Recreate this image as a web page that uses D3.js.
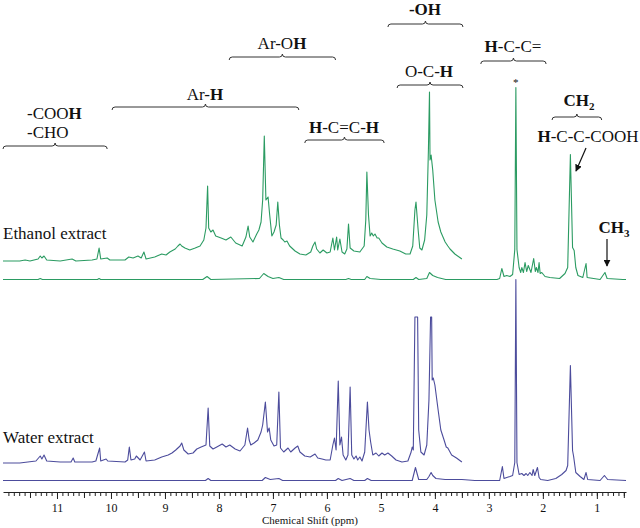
<!DOCTYPE html>
<html>
<head>
<meta charset="utf-8">
<script src="https://cdn.jsdelivr.net/npm/d3@7"></script>
<style>
  body { margin: 0; background: #fff; }
  svg { display: block; }
  text { font-family: "Liberation Serif", "Times New Roman", serif; fill: #111; }
</style>
</head>
<body>
<div id="main"></div>
<script>
// Spectra: [ppm, intensity]
const ethanolZoom = [
  [12.0, 1], [11.69, 1], [11.59, 2], [11.5, 1], [11.35, 3], [11.31, 6], [11.28, 4], [11.24, 6],
  [11.19, 2], [10.94, 1], [10.72, 3], [10.65, 1], [10.35, 2], [10.26, 3], [10.22, 14], [10.19, 3],
  [10.07, 4], [10.02, 2], [9.74, 2], [9.67, 5], [9.59, 4], [9.5, 6], [9.44, 4], [9.39, 10],
  [9.35, 3], [9.19, 5], [9.06, 8], [8.98, 7], [8.91, 10], [8.81, 13], [8.76, 16], [8.72, 18],
  [8.69, 16], [8.63, 14], [8.54, 12], [8.44, 14], [8.35, 16], [8.28, 22], [8.24, 34], [8.21, 76],
  [8.19, 34], [8.15, 30], [8.11, 32], [8.06, 26], [7.96, 24], [7.87, 22], [7.78, 25], [7.69, 19],
  [7.57, 16], [7.5, 25], [7.46, 36], [7.43, 25], [7.37, 20], [7.3, 28], [7.26, 32], [7.22, 40],
  [7.19, 62], [7.16, 126], [7.13, 62], [7.09, 65], [7.06, 47], [7.02, 26], [6.98, 30], [6.94, 37],
  [6.91, 60], [6.88, 37], [6.85, 24], [6.81, 22], [6.78, 20], [6.74, 21], [6.69, 16], [6.59, 11],
  [6.5, 8], [6.39, 7], [6.3, 10], [6.26, 16], [6.22, 20], [6.19, 13], [6.13, 9], [6.07, 12],
  [6.0, 9], [5.94, 10], [5.89, 24], [5.86, 12], [5.82, 25], [5.8, 12], [5.76, 23], [5.72, 10],
  [5.67, 8], [5.63, 13], [5.6, 38], [5.57, 14], [5.5, 11], [5.39, 10], [5.31, 16], [5.28, 42],
  [5.26, 90], [5.23, 47], [5.2, 26], [5.17, 29], [5.14, 26], [5.11, 28], [5.07, 24], [5.04, 24],
  [4.98, 19], [4.89, 15], [4.78, 13], [4.65, 11], [4.54, 8], [4.46, 8], [4.41, 16], [4.37, 52],
  [4.35, 60], [4.31, 32], [4.28, 14], [4.24, 12], [4.19, 22], [4.15, 47], [4.12, 112], [4.1, 170],
  [4.09, 102], [4.07, 107], [4.04, 92], [4.0, 62], [3.94, 40], [3.89, 30], [3.81, 20], [3.76, 16],
  [3.72, 13], [3.63, 8], [3.5, 3]
];

const ethanolFull = [
  [12.0, 0], [11.35, 0], [11.31, 1], [11.27, 0], [10.25, 0], [10.22, 1], [10.19, 0], [8.3, 0],
  [8.22, 3], [8.15, 0], [7.25, 1], [7.17, 6], [7.09, 3], [7.0, 1], [6.89, 2], [6.8, 0],
  [5.65, 0], [5.6, 1], [5.55, 0], [5.3, 0], [5.26, 3], [5.2, 1], [5.0, 0], [4.4, 0],
  [4.35, 2], [4.3, 0], [4.15, 1], [4.1, 7], [4.04, 4], [3.95, 2], [3.8, 0], [2.85, 0],
  [2.8, 1], [2.76, 11], [2.72, 3], [2.67, 4], [2.61, 3], [2.56, 5], [2.52, 30], [2.5, 192],
  [2.48, 30], [2.44, 12], [2.41, 7], [2.39, 12], [2.36, 7], [2.33, 17], [2.3, 8], [2.27, 14],
  [2.22, 7], [2.17, 21], [2.14, 8], [2.12, 12], [2.09, 7], [2.07, 17], [2.05, 6], [2.02, 7],
  [1.96, 3], [1.87, 2], [1.69, 1], [1.59, 6], [1.54, 12], [1.49, 125], [1.45, 32], [1.42, 29],
  [1.39, 12], [1.35, 4], [1.26, 2], [1.2, 16], [1.18, 2], [0.94, 0], [0.85, 7], [0.81, 1],
  [0.52, 0], [0.46, 0]
];

const waterZoom = [
  [12.0, 0], [11.69, 0], [11.39, 2], [11.31, 7], [11.28, 4], [11.24, 8], [11.19, 2], [10.94, 1],
  [10.74, 1], [10.7, 5], [10.67, 1], [10.35, 1], [10.28, 2], [10.21, 15], [10.19, 2], [10.09, 4],
  [10.06, 2], [9.74, 1], [9.69, 3], [9.66, 16], [9.63, 3], [9.56, 4], [9.53, 7], [9.46, 3],
  [9.38, 11], [9.35, 2], [9.19, 3], [9.06, 6], [8.94, 8], [8.87, 10], [8.8, 13], [8.72, 17],
  [8.69, 20], [8.65, 13], [8.57, 9], [8.48, 10], [8.41, 14], [8.33, 16], [8.24, 18], [8.2, 55],
  [8.17, 17], [8.11, 14], [8.04, 16], [7.94, 19], [7.87, 16], [7.8, 18], [7.7, 14], [7.61, 12],
  [7.52, 18], [7.47, 35], [7.44, 23], [7.41, 18], [7.35, 20], [7.28, 23], [7.22, 31], [7.19, 38],
  [7.14, 61], [7.1, 31], [7.07, 35], [7.04, 23], [6.98, 17], [6.93, 18], [6.89, 71], [6.86, 15],
  [6.8, 11], [6.72, 15], [6.67, 11], [6.59, 15], [6.54, 17], [6.5, 11], [6.41, 7], [6.31, 6],
  [6.22, 9], [6.17, 5], [6.09, 4], [6.02, 3], [5.94, 3], [5.89, 18], [5.86, 25], [5.83, 13],
  [5.79, 82], [5.76, 18], [5.73, 26], [5.7, 8], [5.65, 3], [5.61, 8], [5.57, 76], [5.54, 8],
  [5.5, 4], [5.46, 7], [5.43, 3], [5.39, 6], [5.35, 2], [5.3, 11], [5.25, 61], [5.22, 33],
  [5.19, 21], [5.15, 8], [5.09, 10], [5.04, 7], [4.98, 10], [4.93, 8], [4.87, 10], [4.8, 7],
  [4.72, 3], [4.61, 1], [4.5, 2], [4.44, 11], [4.42, 16], [4.4, 13], [4.37, 146], [4.32, 146],
  [4.3, 33], [4.26, 11], [4.2, 8], [4.15, 18], [4.11, 63], [4.08, 146], [4.06, 146], [4.05, 83],
  [4.03, 85], [4.0, 78], [3.94, 53], [3.89, 33], [3.83, 23], [3.79, 16], [3.76, 15], [3.69, 8],
  [3.6, 5], [3.5, 1]
];

const waterFull = [
  [12.0, 0], [8.25, 0], [8.2, 2], [8.15, 0], [7.2, 0], [7.14, 3], [7.05, 1], [6.89, 2],
  [6.82, 0], [5.84, 0], [5.79, 2], [5.72, 0], [5.57, 2], [5.5, 0], [5.3, 0], [5.25, 2],
  [5.18, 0], [4.42, 0], [4.36, 13], [4.3, 1], [4.15, 1], [4.11, 4], [4.07, 8], [4.04, 5],
  [3.98, 2], [3.81, 1], [3.5, 1], [3.26, 0], [2.8, 0], [2.75, 14], [2.72, 2], [2.67, 3],
  [2.61, 4], [2.56, 5], [2.52, 18], [2.5, 201], [2.48, 18], [2.44, 6], [2.39, 7], [2.35, 5],
  [2.31, 7], [2.28, 5], [2.24, 8], [2.2, 5], [2.18, 11], [2.15, 5], [2.1, 13], [2.07, 3],
  [2.04, 1], [1.91, 0], [1.76, 2], [1.65, 6], [1.57, 10], [1.54, 15], [1.49, 115], [1.45, 30],
  [1.43, 24], [1.39, 8], [1.31, 4], [1.24, 1], [1.2, 8], [1.17, 1], [0.94, 0], [0.86, 5],
  [0.8, 1], [0.46, 0]
];

const majorTicks = d3.range(1, 12); // 1 ... 11 ppm

// Layout config
const width = 640;
const height = 528;
const axisY = 492;
const green = "#2b9b62";
const blue = "#4c4c9c";
const labelSize = "17px";

const svg = d3.select("#main").append("svg")
  .attr("width", width)
  .attr("height", height);

const x = d3.scaleLinear().domain([12, 0.46]).range([3, 626]);

// One vertical scale per trace, each with its own baseline
function yAt(base) {
  return d3.scaleLinear().domain([0, 100]).range([base, base - 100]);
}

const traces = [
  { data: ethanolFull, color: green, y: yAt(279.5) },
  { data: ethanolZoom, color: green, y: yAt(262) },
  { data: waterFull, color: blue, y: yAt(480.5) },
  { data: waterZoom, color: blue, y: yAt(463) },
];

traces.forEach((t) => {
  svg.append("path")
    .datum(t.data)
    .attr("fill", "none")
    .attr("stroke", t.color)
    .attr("stroke-width", 1.1)
    .attr("stroke-linejoin", "round")
    .attr("d", d3.line().x((d) => x(d[0])).y((d) => t.y(d[1])));
});

// Axis: minor, half and major ticks
const minor = d3.range(5, 120).map((i) => i / 10);
const half = d3.range(0.5, 12, 1);

const ag = svg.append("g").attr("transform", `translate(0,${axisY})`);
ag.append("g")
  .call(d3.axisBottom(x).tickValues(minor).tickSize(4).tickSizeOuter(0).tickFormat(""));
ag.append("g")
  .call(d3.axisBottom(x).tickValues(half).tickSize(6).tickFormat(""))
  .select(".domain").remove();
ag.append("g")
  .call(d3.axisBottom(x).tickValues(majorTicks).tickSize(7).tickPadding(4).tickFormat(d3.format("d")))
  .call((g) => g.select(".domain").remove())
  .selectAll("text")
  .style("font-family", '"Liberation Serif", serif')
  .style("font-size", "12px")
  .attr("fill", "#111");
ag.selectAll("line, path").attr("stroke", "#222");

svg.append("text")
  .attr("x", 310)
  .attr("y", 524)
  .attr("text-anchor", "middle")
  .style("font-size", "11px")
  .text("Chemical Shift (ppm)");

// Trace names
svg.append("text").attr("x", 3).attr("y", 239).style("font-size", labelSize).text("Ethanol extract");
svg.append("text").attr("x", 3).attr("y", 443).style("font-size", labelSize).text("Water extract");

// Group braces [from ppm, to ppm, y]
const braces = [
  [12.0, 10.07, 146],
  [9.98, 6.52, 107],
  [7.81, 5.84, 57],
  [6.41, 4.94, 140],
  [4.87, 3.48, 24],
  [4.7, 3.48, 85],
  [3.15, 1.94, 61],
  [1.83, 0.91, 117],
];

svg.selectAll(".brace")
  .data(braces)
  .join("path")
  .attr("class", "brace")
  .attr("fill", "none")
  .attr("stroke", "#333")
  .attr("stroke-width", 1)
  .attr("d", ([a, b, yy]) => {
    const x1 = x(a), x2 = x(b), xm = (x1 + x2) / 2;
    return `M${x1},${yy + 3} Q${x1},${yy} ${x1 + 3},${yy} L${xm - 3},${yy} Q${xm},${yy} ${xm},${yy - 3}` +
      ` Q${xm},${yy} ${xm + 3},${yy} L${x2 - 3},${yy} Q${x2},${yy} ${x2},${yy + 3}`;
  });

// Group labels: parts are [text, bold]
const labels = [
  { x: 27, y: 119, anchor: "start", parts: [["-COO", 0], ["H", 1]] },
  { x: 27, y: 138, anchor: "start", parts: [["-CHO", 0]] },
  { x: 205, y: 100, anchor: "middle", parts: [["Ar-", 0], ["H", 1]] },
  { x: 282, y: 49, anchor: "middle", parts: [["Ar-O", 0], ["H", 1]] },
  { x: 344, y: 133, anchor: "middle", parts: [["H", 1], ["-C=C-", 0], ["H", 1]] },
  { x: 425, y: 15, anchor: "middle", parts: [["-OH", 1]] },
  { x: 429, y: 77, anchor: "middle", parts: [["O-C-", 0], ["H", 1]] },
  { x: 513, y: 52, anchor: "middle", parts: [["H", 1], ["-C-C=", 0]] },
  { x: 588, y: 142, anchor: "middle", parts: [["H", 1], ["-C-C-COOH", 0]] },
];

labels.forEach((l) => {
  const t = svg.append("text")
    .attr("x", l.x)
    .attr("y", l.y)
    .attr("text-anchor", l.anchor)
    .style("font-size", labelSize);
  l.parts.forEach(([s, b]) => {
    t.append("tspan").attr("font-weight", b ? "bold" : "normal").text(s);
  });
});

// CH2 and CH3 with subscripts
[[579, 106, "2"], [614, 233, "3"]].forEach(([cx, cy, n]) => {
  const t = svg.append("text")
    .attr("x", cx)
    .attr("y", cy)
    .attr("text-anchor", "middle")
    .attr("font-weight", "bold")
    .style("font-size", labelSize);
  t.append("tspan").text("CH");
  t.append("tspan").attr("dy", 4).style("font-size", "11px").text(n);
});

svg.append("text")
  .attr("x", x(2.5))
  .attr("y", 86)
  .attr("text-anchor", "middle")
  .style("font-size", "11px")
  .text("*");

// Arrows
svg.append("defs").append("marker")
  .attr("id", "head")
  .attr("viewBox", "0 0 10 10")
  .attr("refX", 9)
  .attr("refY", 5)
  .attr("markerWidth", 7)
  .attr("markerHeight", 7)
  .attr("markerUnits", "userSpaceOnUse")
  .attr("orient", "auto")
  .append("path")
  .attr("d", "M0,0 L10,5 L0,10 Z")
  .attr("fill", "#111");

[[586, 148, 576, 171], [607, 239, 607, 266]].forEach(([x1, y1, x2, y2]) => {
  svg.append("line")
    .attr("x1", x1).attr("y1", y1)
    .attr("x2", x2).attr("y2", y2)
    .attr("stroke", "#111")
    .attr("stroke-width", 1.2)
    .attr("marker-end", "url(#head)");
});
</script>
</body>
</html>
